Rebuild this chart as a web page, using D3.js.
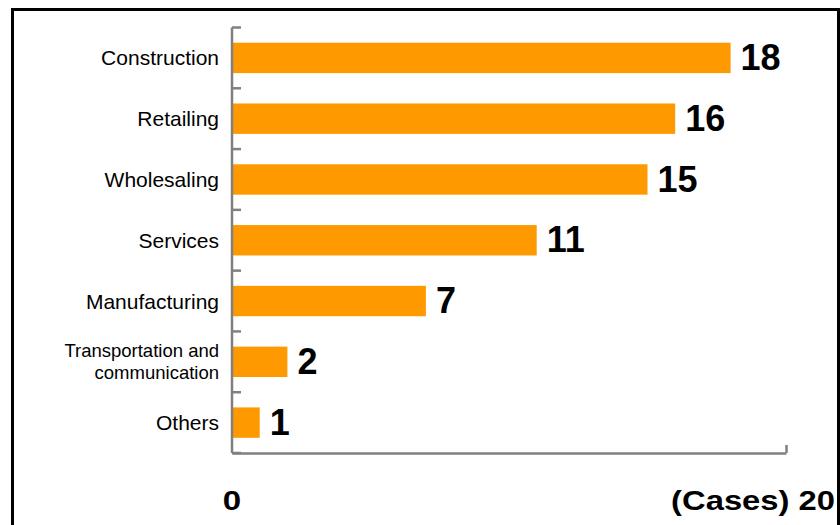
<!DOCTYPE html>
<html>
<head>
<meta charset="utf-8">
<script src="https://cdn.jsdelivr.net/npm/d3@7"></script>
<style>
  body { margin: 0; background: #fff; }
  text { font-family: "Liberation Sans", Arial, sans-serif; }
</style>
</head>
<body>
<div id="chart"></div>
<script>
// categories top to bottom, and the case counts
var categories = ["Construction", "Retailing", "Wholesaling", "Services", "Manufacturing", "Transportation and\ncommunication", "Others"];
var cases = [18, 16, 15, 11, 7, 2, 1];
var xTicks = [0, 20];
var unitLabel = "(Cases)";

var W = 840, H = 525;
var data = categories.map(function(c, i) { return { cat: c, value: cases[i] }; });

var svg = d3.select("#chart").append("svg")
    .attr("width", W)
    .attr("height", H);

// outer frame
svg.append("rect")
    .attr("x", 12.5).attr("y", 9.5)
    .attr("width", 826).attr("height", 600)
    .attr("fill", "none")
    .attr("stroke", "#000")
    .attr("stroke-width", 3);

var x = d3.scaleLinear()
    .domain([0, 20])
    .range([232, 786]);

var y = d3.scaleBand()
    .domain(categories)
    .range([27.5, 453])
    .paddingInner(0.5)
    .paddingOuter(0.25);

var axisColor = "#808080";

// bars
svg.selectAll("rect.bar")
  .data(data)
  .enter()
  .append("rect")
    .attr("class", "bar")
    .attr("x", x(0))
    .attr("y", function(d) { return y(d.cat); })
    .attr("width", function(d) { return x(d.value) - x(0); })
    .attr("height", y.bandwidth())
    .attr("fill", "#FF9900");

// y axis line and ticks at band borders
var step = y.step();
var edges = categories.map(function(c) { return y(c) - step * 0.25; });
edges.push(y(categories[categories.length - 1]) + y.bandwidth() + step * 0.25);

svg.append("line")
    .attr("x1", x(0)).attr("x2", x(0))
    .attr("y1", edges[0]).attr("y2", edges[edges.length - 1])
    .attr("stroke", axisColor).attr("stroke-width", 2.5);

svg.selectAll("line.ytick")
  .data(edges)
  .enter()
  .append("line")
    .attr("class", "ytick")
    .attr("x1", x(0)).attr("x2", x(0) + 9)
    .attr("y1", function(d) { return d; })
    .attr("y2", function(d) { return d; })
    .attr("stroke", axisColor).attr("stroke-width", 2.5);

// x axis: line plus end tick only
var xAxis = svg.append("g")
    .attr("transform", "translate(0," + edges[edges.length - 1] + ")")
    .call(d3.axisBottom(x).tickValues([20]).tickSize(-8).tickSizeOuter(0).tickFormat(""));
xAxis.select(".domain").attr("stroke", axisColor).attr("stroke-width", 2.5);
xAxis.selectAll(".tick line").attr("stroke", axisColor).attr("stroke-width", 2.5);

// category labels
var labels = svg.selectAll("text.cat")
  .data(data)
  .enter()
  .append("text")
    .attr("class", "cat")
    .attr("text-anchor", "end")
    .attr("fill", "#000");

labels.each(function(d) {
  var lines = d.cat.split("\n");
  var t = d3.select(this);
  var cy = y(d.cat) + y.bandwidth() / 2;
  if (lines.length === 1) {
    t.attr("x", 219).attr("y", cy).attr("dy", "0.36em")
      .style("font-size", "21px").text(d.cat);
  } else {
    t.style("font-size", "18.5px");
    lines.forEach(function(l, i) {
      t.append("tspan")
        .attr("x", 219)
        .attr("y", cy - 4.5 + i * 22)
        .text(l);
    });
  }
});

// value labels
svg.selectAll("text.val")
  .data(data)
  .enter()
  .append("text")
    .attr("class", "val")
    .attr("x", function(d) { return x(d.value) + 10; })
    .attr("y", function(d) { return y(d.cat) + y.bandwidth() / 2; })
    .attr("dy", "0.34em")
    .style("font-size", "36px")
    .style("font-weight", "bold")
    .text(function(d) { return d.value; });

// bottom axis labels (slightly stretched wide, like the original)
var x0 = x(xTicks[0]);
svg.append("text")
    .attr("x", 0)
    .attr("y", 0)
    .attr("text-anchor", "middle")
    .attr("transform", "translate(" + x0 + ",510) scale(1.18,1)")
    .style("font-size", "28px")
    .style("font-weight", "bold")
    .text(xTicks[0]);

svg.append("text")
    .attr("x", 0)
    .attr("y", 0)
    .attr("text-anchor", "end")
    .attr("transform", "translate(835,510) scale(1.17,1)")
    .style("font-size", "28px")
    .style("font-weight", "bold")
    .text(unitLabel + " " + xTicks[1]);
</script>
</body>
</html>
